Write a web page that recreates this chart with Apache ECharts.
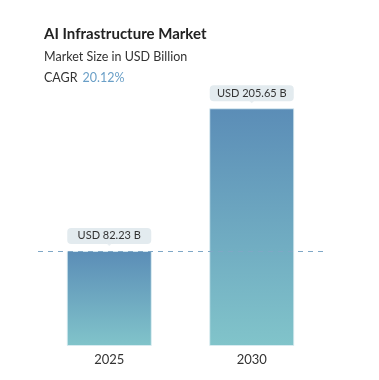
<!DOCTYPE html>
<html>
<head>
<meta charset="utf-8">
<script src="https://cdn.jsdelivr.net/npm/echarts@6/dist/echarts.min.js"></script>
<style>html,body{margin:0;padding:0;background:#fff;}#c{width:379px;height:380px;}</style>
</head>
<body>
<div id="c"></div>
<script>
const categories = ['2025', '2030'];
const values = [82.23, 205.65];
const valueLabels = ['USD 82.23 B', 'USD 205.65 B'];
const titleText = 'AI Infrastructure Market';
const subtitleText = 'Market Size in USD Billion';
const cagrText = '20.12%';

const chart = echarts.init(document.getElementById('c'), null, {renderer: 'canvas'});
const FONT = 'Lato, "Open Sans", sans-serif';
chart.setOption({
  animation: false,
  backgroundColor: '#fff',
  title: [
    {text: titleText, left: 39, top: 22, textStyle: {fontFamily: FONT, fontSize: 15, fontWeight: 'bold', color: '#222'}},
    {text: subtitleText, left: 39, top: 45, textStyle: {fontFamily: FONT, fontSize: 12.5, fontWeight: 'normal', color: '#333'}},
    {text: '{a|CAGR} {b|' + cagrText + '}', left: 39, top: 64,
     textStyle: {fontWeight: 'normal', rich: {
       a: {fontFamily: FONT, fontSize: 12.5, fontWeight: 'normal', color: '#333'},
       b: {fontFamily: FONT, fontSize: 12.5, fontWeight: 'normal', color: '#6a9fc7'}
     }}}
  ],
  grid: {left: 38, right: 56, top: 57, bottom: 34},
  xAxis: {
    type: 'category', data: categories,
    axisLine: {show: false}, axisTick: {show: false},
    axisLabel: {fontFamily: FONT, fontSize: 13, color: '#333', margin: 7}
  },
  yAxis: {type: 'value', min: 0, max: 250, show: false, splitLine: {show: false}},
  series: [
    {
      type: 'bar', data: values, barWidth: 85,
      itemStyle: {
        color: new echarts.graphic.LinearGradient(0, 0, 0, 1, [
          {offset: 0, color: '#5b8db7'},
          {offset: 1, color: '#81c4ca'}
        ]),
        borderColor: 'rgba(220,238,242,0.8)', borderWidth: 1
      },
      label: {
        show: true, position: 'top', distance: 7,
        formatter: p => valueLabels[p.dataIndex],
        fontFamily: FONT, fontSize: 11, color: '#333',
        backgroundColor: '#e3ebef', borderRadius: 4,
        width: 84, align: 'center', padding: [2, 0, 2, 0], lineHeight: 12
      },
      markLine: {
        silent: true, symbol: 'none',
        label: {show: false},
        lineStyle: {type: [5, 5], color: '#7fa7c6', width: 1},
        data: [{yAxis: values[0]}]
      },
      z: 2
    },
    {
      type: 'scatter', data: values, symbol: 'triangle', symbolRotate: 180,
      symbolSize: [8, 4], symbolOffset: [0, -7],
      itemStyle: {color: '#e3ebef'}, z: 3, silent: true
    }
  ]
});
</script>
</body>
</html>
